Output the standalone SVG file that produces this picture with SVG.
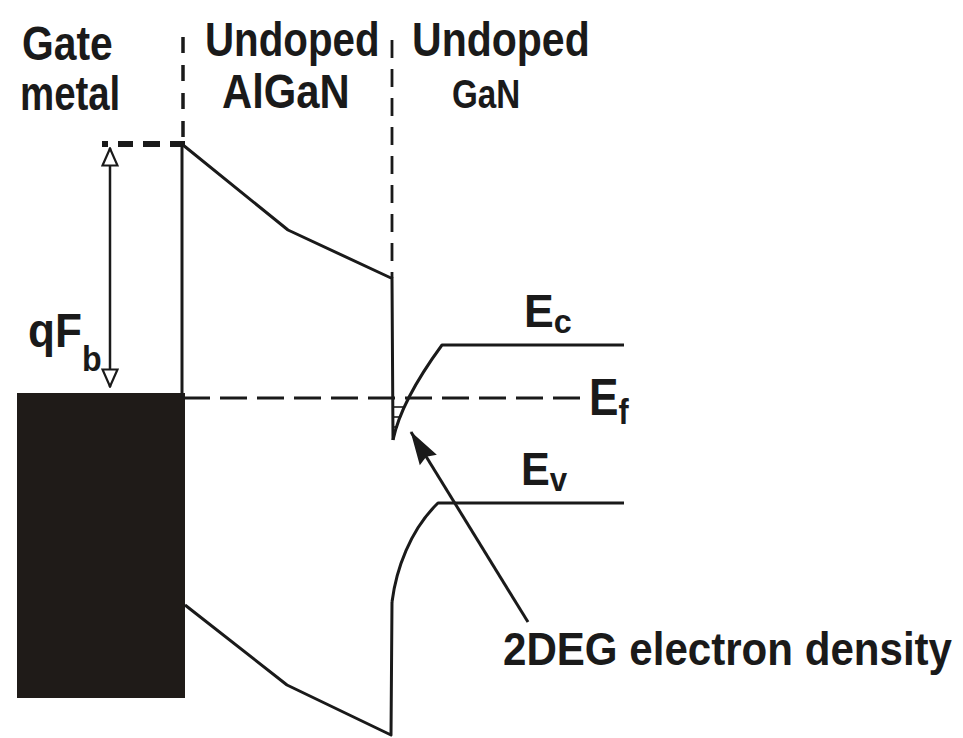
<svg xmlns="http://www.w3.org/2000/svg" width="963" height="738" viewBox="0 0 963 738">
<defs>
<style>
.t{font-family:"Liberation Sans",Arial,sans-serif;font-weight:bold;fill:#1a1a1a}
.ln{fill:none;stroke:#1a1a1a;stroke-width:3;stroke-linejoin:round}
.dash{fill:none;stroke:#1a1a1a}
</style>
<marker id="open" viewBox="0 0 20 18" refX="19" refY="9" markerWidth="20" markerHeight="18" markerUnits="userSpaceOnUse" orient="auto-start-reverse">
<path d="M1.5,1.5 L18.5,9 L1.5,16.5 Z" fill="#fff" stroke="#1a1a1a" stroke-width="2.2"/>
</marker>
<marker id="fill" viewBox="0 0 34 22" refX="33" refY="11" markerWidth="34" markerHeight="22" markerUnits="userSpaceOnUse" orient="auto">
<path d="M0,1 L34,11 L0,21 L4,11 Z" fill="#1a1a1a"/>
</marker>
</defs>
<rect width="963" height="738" fill="#fff"/>

<g id="gate-metal">
<rect x="17" y="393" width="168" height="305" fill="#1f1b18"/>
</g>

<g id="bands">
<!-- interface dashed lines -->
<line class="dash" x1="183" y1="37" x2="183" y2="143" stroke-width="3.5" stroke-dasharray="16 12"/>
<line class="dash" x1="392" y1="40" x2="392" y2="278" stroke-width="2.8" stroke-dasharray="18 11"/>
<!-- metal work function level -->
<line class="dash" x1="102" y1="144" x2="185" y2="144" stroke-width="6" stroke-dasharray="6 10 15 10 17 10 15"/>
<!-- gate vertical -->
<line class="ln" x1="182" y1="143" x2="182" y2="398"/>
<!-- conduction band -->
<polyline class="ln" points="183,145 288,230 391,278 392,278 393,440"/>
<path class="ln" d="M393,440 Q401,401 442,345 L624,345"/>
<!-- 2DEG hatch -->
<g stroke="#1a1a1a" stroke-width="1.6">
<line x1="394" y1="407" x2="405" y2="407"/>
<line x1="394" y1="417" x2="401" y2="417"/>
<line x1="394" y1="427" x2="398" y2="427"/>
</g>
<!-- Fermi level -->
<line class="dash" x1="183" y1="398" x2="583" y2="398" stroke-width="3" stroke-dasharray="27 10"/>
<!-- valence band -->
<polyline class="ln" points="185,605 287,685 391,735 392,602"/>
<path class="ln" d="M392,602 C396,570 410,530 438,503 L624,503"/>
</g>

<g id="connectors">
<line x1="110" y1="148" x2="110" y2="387" stroke="#1a1a1a" stroke-width="2.5" marker-start="url(#open)" marker-end="url(#open)"/>
<line x1="528" y1="622" x2="411" y2="432" stroke="#1a1a1a" stroke-width="3" marker-end="url(#fill)"/>
</g>

<g id="labels">
<g id="label-gate">
<text class="t" font-size="48" transform="translate(22,60) scale(0.85,1)">Gate</text>
<text class="t" font-size="48" transform="translate(20,110) scale(0.8,1)">metal</text>
</g>
<g id="label-algan">
<text class="t" font-size="48" transform="translate(205,56) scale(0.84,1)">Undoped</text>
<text class="t" font-size="48" transform="translate(222,108) scale(0.87,1)">AlGaN</text>
</g>
<g id="label-gan">
<text class="t" font-size="48" transform="translate(412,56) scale(0.855,1)">Undoped</text>
<text class="t" font-size="40" transform="translate(452,108) scale(0.83,1)">GaN</text>
</g>
<g id="label-ec"><text class="t" font-size="47" transform="translate(524,327) scale(0.95,1)">E<tspan font-size="34" dy="6">c</tspan></text></g>
<g id="label-ef"><text class="t" font-size="52" transform="translate(589,415) scale(0.85,1)">E<tspan font-size="36" dy="9">f</tspan></text></g>
<g id="label-ev"><text class="t" font-size="47" transform="translate(521,485) scale(0.92,1)">E<tspan font-size="34" dy="6">v</tspan></text></g>
<g id="label-qfb">
<text class="t" font-size="48" transform="translate(28,347) scale(0.92,1)">qF<tspan font-size="35" dy="24">b</tspan></text>
</g>
<g id="label-2deg"><text class="t" font-size="46" transform="translate(503,665) scale(0.915,1)">2DEG electron density</text></g>
</g>
</svg>
